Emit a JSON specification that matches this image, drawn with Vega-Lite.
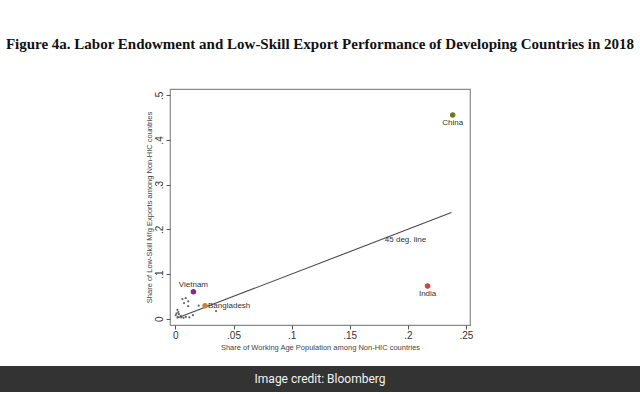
{
  "$schema": "https://vega.github.io/schema/vega-lite/v6.json",
  "autosize": {"type": "pad"},
  "padding": {"top": 37, "left": 0, "right": 0, "bottom": 0},
  "background": "white",
  "bounds": "flush",
  "center": true,
  "spacing": 41,
  "title": {
    "text": "Figure 4a. Labor Endowment and Low-Skill Export Performance of Developing Countries in 2018",
    "font": "Liberation Serif",
    "fontSize": 15,
    "fontWeight": "bold",
    "color": "#111111",
    "anchor": "middle",
    "offset": 36
  },
  "datasets": {
    "countries": [
      {"country": "China", "share_pop": 0.2386, "share_exp": 0.456},
      {"country": "India", "share_pop": 0.217, "share_exp": 0.073},
      {"country": "Vietnam", "share_pop": 0.0155, "share_exp": 0.0604},
      {"country": "Bangladesh", "share_pop": 0.0255, "share_exp": 0.029}
    ],
    "others": [
      {"share_pop": 0.006, "share_exp": 0.044},
      {"share_pop": 0.0089, "share_exp": 0.046},
      {"share_pop": 0.011, "share_exp": 0.039},
      {"share_pop": 0.0074, "share_exp": 0.035},
      {"share_pop": 0.011, "share_exp": 0.028},
      {"share_pop": 0.020, "share_exp": 0.029},
      {"share_pop": 0.035, "share_exp": 0.017},
      {"share_pop": 0.015, "share_exp": 0.008},
      {"share_pop": 0.0017, "share_exp": 0.020},
      {"share_pop": 0.0003, "share_exp": 0.008},
      {"share_pop": 0.002, "share_exp": 0.004},
      {"share_pop": 0.0046, "share_exp": 0.006},
      {"share_pop": 0.007, "share_exp": 0.002},
      {"share_pop": 0.001, "share_exp": 0.012},
      {"share_pop": 0.003, "share_exp": 0.010},
      {"share_pop": 0.005, "share_exp": 0.003},
      {"share_pop": 0.009, "share_exp": 0.004},
      {"share_pop": 0.0025, "share_exp": 0.015},
      {"share_pop": 0.012, "share_exp": 0.003}
    ],
    "line45": [
      {"share_pop": 0.001, "share_exp": 0.001},
      {"share_pop": 0.2375, "share_exp": 0.2375}
    ],
    "lineLabel": [
      {"share_pop": 0.198, "share_exp": 0.177, "label": "45 deg. line"}
    ],
    "credit": [
      {"text": "Image credit: Bloomberg"}
    ]
  },
  "config": {
    "font": "Liberation Sans",
    "axis": {
      "grid": false,
      "domain": false,
      "labelFont": "Liberation Sans",
      "labelFontSize": 10,
      "labelColor": "#333333",
      "tickColor": "#555555",
      "tickSize": 4,
      "titleFont": "Liberation Sans",
      "titleFontSize": 7.5,
      "titleFontWeight": "normal",
      "titleColor": "#444444"
    }
  },
  "vconcat": [
    {
      "width": 300,
      "height": 236,
      "view": {"stroke": "#8a8a8a", "strokeWidth": 1.2, "fill": "white"},
      "encoding": {
        "x": {
          "field": "share_pop",
          "type": "quantitative",
          "scale": {"domain": [-0.00465, 0.2535], "nice": false, "zero": false},
          "axis": {
            "title": "Share of Working Age Population among Non-HIC countries",
            "values": [0, 0.05, 0.1, 0.15, 0.2, 0.25],
            "labelExpr": "datum.value == 0 ? '0' : slice(format(datum.value, '.2~f'), 1)",
            "labelPadding": 1,
            "titlePadding": 3
          }
        },
        "y": {
          "field": "share_exp",
          "type": "quantitative",
          "scale": {"domain": [-0.0141, 0.5141], "nice": false, "zero": false},
          "axis": {
            "title": "Share of Low-Skill Mfg Exports among Non-HIC countries",
            "values": [0, 0.1, 0.2, 0.3, 0.4, 0.5],
            "labelExpr": "datum.value == 0 ? '0' : slice(format(datum.value, '.1~f'), 1)",
            "labelAngle": -90,
            "labelAlign": "center",
            "labelBaseline": "bottom",
            "labelPadding": 2,
            "titlePadding": 1
          }
        }
      },
      "layer": [
        {
          "data": {"name": "line45"},
          "mark": {"type": "line", "color": "#4a4a4a", "strokeWidth": 1.1},
          "encoding": {}
        },
        {
          "data": {"name": "others"},
          "mark": {"type": "circle", "color": "#555555", "size": 5, "opacity": 0.9},
          "encoding": {}
        },
        {
          "data": {"name": "countries"},
          "mark": {"type": "circle", "size": 30, "opacity": 1},
          "encoding": {
            "color": {
              "field": "country",
              "type": "nominal",
              "scale": {
                "domain": ["China", "India", "Vietnam", "Bangladesh"],
                "range": ["#6b7a2a", "#e0403f", "#7a2b9a", "#c8823f"]
              },
              "legend": null
            }
          }
        },
        {
          "data": {"name": "countries"},
          "transform": [{"filter": "datum.country == 'China' || datum.country == 'India'"}],
          "mark": {"type": "text", "font": "Liberation Sans", "fontSize": 8, "color": "#333333", "baseline": "top", "dy": 4},
          "encoding": {"text": {"field": "country"}}
        },
        {
          "data": {"name": "countries"},
          "transform": [{"filter": "datum.country == 'Vietnam'"}],
          "mark": {"type": "text", "font": "Liberation Sans", "fontSize": 8, "color": "#333333", "baseline": "bottom", "dy": -3},
          "encoding": {"text": {"field": "country"}}
        },
        {
          "data": {"name": "countries"},
          "transform": [{"filter": "datum.country == 'Bangladesh'"}],
          "mark": {"type": "text", "font": "Liberation Sans", "fontSize": 8, "color": "#333333", "align": "left", "baseline": "middle", "dx": 3},
          "encoding": {"text": {"field": "country"}}
        },
        {
          "data": {"name": "lineLabel"},
          "mark": {"type": "text", "font": "Liberation Sans", "fontSize": 8, "color": "#333333", "align": "center", "baseline": "middle"},
          "encoding": {"text": {"field": "label"}}
        }
      ]
    },
    {
      "width": 640,
      "height": 26,
      "view": {"fill": "#333333", "stroke": null},
      "data": {"name": "credit"},
      "mark": {"type": "text", "font": "Roboto", "fontSize": 12, "color": "#f2f2f2", "align": "center", "baseline": "middle"},
      "encoding": {"text": {"field": "text"}}
    }
  ]
}
